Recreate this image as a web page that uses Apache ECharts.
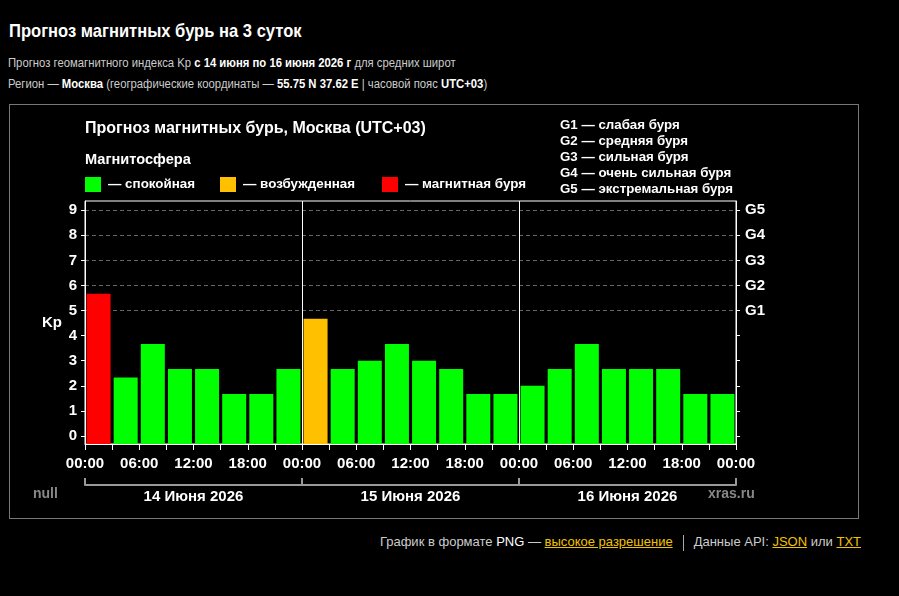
<!DOCTYPE html>
<html>
<head>
<meta charset="utf-8">
<title>Прогноз магнитных бурь на 3 суток</title>
<script src="https://cdn.jsdelivr.net/npm/echarts@6/dist/echarts.min.js"></script>
<style>
  body { margin: 0; background: #000; font-family: "Liberation Sans", Arial, sans-serif; color: #ccc; }
  .h1 { position: absolute; left: 9px; top: 20px; font-size: 18.5px; font-weight: bold; color: #fff; line-height: 22px;
        white-space: nowrap; transform: scaleX(0.895); transform-origin: 0 0; }
  .line { position: absolute; left: 8px; font-size: 12.5px; line-height: 16px; white-space: nowrap;
          transform: scaleX(0.904); transform-origin: 0 0; }
  .line b { color: #fff; }
  #chart { position: absolute; left: 9px; top: 104px; width: 848px; height: 413px; border: 1px solid #777; }
  .foot { position: absolute; right: 38px; top: 533px; font-size: 13px; line-height: 18px; white-space: nowrap; }
  .foot a { color: #f2c200; text-decoration: underline; }
  .foot .w { color: #fff; }
  .foot .sep { display: inline-block; width: 1px; height: 16px; background: #aaa; vertical-align: middle; margin: 0 10px; }
</style>
</head>
<body>
<div class="h1">Прогноз магнитных бурь на 3 суток</div>
<div class="line" style="top:55px">Прогноз геомагнитного индекса Kp <b>с 14 июня по 16 июня 2026 г</b> для средних широт</div>
<div class="line" style="top:76px">Регион — <b>Москва</b> (географические координаты — <b>55.75 N 37.62 E</b> | часовой пояс <b>UTC+03</b>)</div>
<div id="chart"></div>
<div class="foot">График в формате <span class="w">PNG</span> — <a>высокое разрешение</a><span class="sep"></span>Данные API: <a>JSON</a> или <a>TXT</a></div>
<script>
// 3-hour slots, start hour from 14 June 00:00 (UTC+03)
const slotHours = [0, 3, 6, 9, 12, 15, 18, 21, 24, 27, 30, 33, 36, 39, 42, 45, 48, 51, 54, 57, 60, 63, 66, 69]
const kpValues = [5.67, 2.33, 3.67, 2.67, 2.67, 1.67, 1.67, 2.67,
  4.67, 2.67, 3.00, 3.67, 3.00, 2.67, 1.67, 1.67,
  2.00, 2.67, 3.67, 2.67, 2.67, 2.67, 1.67, 1.67]
const slotTicks = [0, 3, 6, 9, 12, 15, 18, 21, 24, 27, 30, 33, 36, 39, 42, 45, 48, 51, 54, 57, 60, 63, 66, 69, 72]
const hourTicks = [0, 6, 12, 18, 24, 30, 36, 42, 48, 54, 60, 66, 72]
const hourLabels = ['00:00', '06:00', '12:00', '18:00', '00:00', '06:00', '12:00', '18:00', '00:00', '06:00', '12:00', '18:00', '00:00']
const dayBounds = [0, 24, 48, 72]
const dayCenters = [12, 36, 60]
const dayLabels = ['14 Июня 2026', '15 Июня 2026', '16 Июня 2026']
const kpTicks = [0, 1, 2, 3, 4, 5, 6, 7, 8, 9]
const gTicks = [5, 6, 7, 8, 9]
const gLabels = ['G1', 'G2', 'G3', 'G4', 'G5']
const gNames = ['G1 — слабая буря', 'G2 — средняя буря', 'G3 — сильная буря', 'G4 — очень сильная буря', 'G5 — экстремальная буря']
const statusNames = ['— спокойная', '— возбужденная', '— магнитная буря']
const statusLimits = [4, 5] // Kp >= 4 excited, Kp >= 5 storm

const statusColors = ['#00ff00', '#ffc000', '#ff0000']
const yMin = -0.32
const yMax = 9.37
const bold = { color: '#fff', fontWeight: 'bold', fontFamily: 'Liberation Sans, Arial, sans-serif' }

function statusOf(kp) {
  if (kp >= statusLimits[1]) return 2
  if (kp >= statusLimits[0]) return 1
  return 0
}

const chart = echarts.init(document.getElementById('chart'))

const series = statusNames.map((name, k) => ({
  name: name,
  type: 'bar',
  stack: 'kp',
  barWidth: 24,
  xAxisIndex: 0,
  yAxisIndex: 0,
  itemStyle: { color: statusColors[k] },
  data: slotHours.map((h, i) => [h + 1.5, statusOf(kpValues[i]) === k ? kpValues[i] : '-'])
}))

// bars in the original run down to the bottom of the frame, not to 0
series.push({
  name: 'base',
  type: 'bar',
  stack: 'kp',
  barWidth: 24,
  silent: true,
  itemStyle: {
    color: (p) => statusColors[statusOf(kpValues[p.dataIndex])]
  },
  data: slotHours.map(h => [h + 1.5, yMin]),
  markLine: {
    silent: true,
    symbol: 'none',
    label: { show: false },
    lineStyle: { color: '#fff', width: 1, type: 'solid' },
    data: dayBounds.slice(1, 3).map(v => ({ xAxis: v }))
  }
})

chart.setOption({
  backgroundColor: '#000',
  animation: false,
  title: [
    { text: 'Прогноз магнитных бурь, Москва (UTC+03)', left: 75, top: 16, padding: 0, textStyle: { ...bold, fontSize: 16 } },
    { text: 'Магнитосфера', left: 75, top: 47, padding: 0, textStyle: { ...bold, fontSize: 14.6 } },
    { text: gNames.join('\n'), left: 550, top: 12, padding: 0, textStyle: { ...bold, fontSize: 13.3, lineHeight: 16 } },
    { text: 'null', left: 23, top: 382, padding: 0, textStyle: { ...bold, color: '#888', fontSize: 14 } },
    { text: 'xras.ru', left: 698, top: 382, padding: 0, textStyle: { ...bold, color: '#888', fontSize: 14 } }
  ],
  legend: [0, 1, 2].map(k => ({
    data: [statusNames[k]],
    left: [75, 210, 372][k],
    top: 72,
    padding: 0,
    icon: 'rect',
    itemWidth: 16,
    itemHeight: 15,
    selectedMode: false,
    textStyle: { ...bold, fontSize: 13.4, padding: [0, 0, 0, 2] }
  })),
  grid: {
    left: 75,
    right: 122,
    top: 96,
    bottom: 74,
    show: true,
    borderColor: '#fff',
    borderWidth: 1,
    outerBoundsMode: 'none'
  },
  xAxis: [
    {
      type: 'value',
      min: 0,
      max: 72,
      position: 'bottom',
      axisLine: { show: true, onZero: false, lineStyle: { color: '#fff' } },
      axisTick: { show: true, customValues: slotTicks, length: 6, lineStyle: { color: '#fff' } },
      axisLabel: {
        customValues: hourTicks,
        formatter: (v) => hourLabels[hourTicks.indexOf(v)],
        margin: 12,
        ...bold,
        fontSize: 15
      },
      splitLine: { show: false }
    },
    {
      type: 'value',
      min: 0,
      max: 72,
      position: 'bottom',
      offset: 41,
      axisLine: { show: true, onZero: false, lineStyle: { color: '#999', width: 2 } },
      axisTick: { show: true, inside: true, customValues: dayBounds, length: 7, lineStyle: { color: '#999', width: 2 } },
      axisLabel: {
        customValues: dayCenters,
        formatter: (v) => dayLabels[dayCenters.indexOf(v)],
        margin: 4,
        ...bold,
        fontSize: 15
      },
      splitLine: { show: false }
    }
  ],
  yAxis: [
    {
      type: 'value',
      min: yMin,
      max: yMax,
      position: 'left',
      name: 'Kp',
      nameLocation: 'middle',
      nameRotate: 0,
      nameGap: 23,
      nameTextStyle: { ...bold, fontSize: 15 },
      axisLine: { show: true, onZero: false, lineStyle: { color: '#fff' } },
      axisTick: { show: true, customValues: kpTicks, length: 4, lineStyle: { color: '#fff' } },
      axisLabel: { customValues: kpTicks, margin: 8, ...bold, fontSize: 15 },
      splitLine: { show: false }
    },
    {
      type: 'value',
      min: yMin,
      max: yMax,
      position: 'right',
      axisLine: { show: true, onZero: false, lineStyle: { color: '#fff' } },
      axisTick: { show: true, customValues: kpTicks, length: 4, lineStyle: { color: '#fff' } },
      axisLabel: {
        customValues: gTicks,
        formatter: (v) => gLabels[gTicks.indexOf(v)],
        margin: 9,
        ...bold,
        fontSize: 15
      },
      splitLine: { show: false }
    },
    {
      // only carries the dashed storm-level grid lines
      type: 'value',
      min: yMin,
      max: yMax,
      position: 'left',
      axisLine: { show: false, onZero: false },
      axisTick: { show: false, customValues: gTicks },
      axisLabel: { show: false, customValues: gTicks },
      splitLine: { show: true, lineStyle: { color: '#666', type: [4, 3], width: 1 } }
    }
  ],
  series: series
})
</script>
</body>
</html>
